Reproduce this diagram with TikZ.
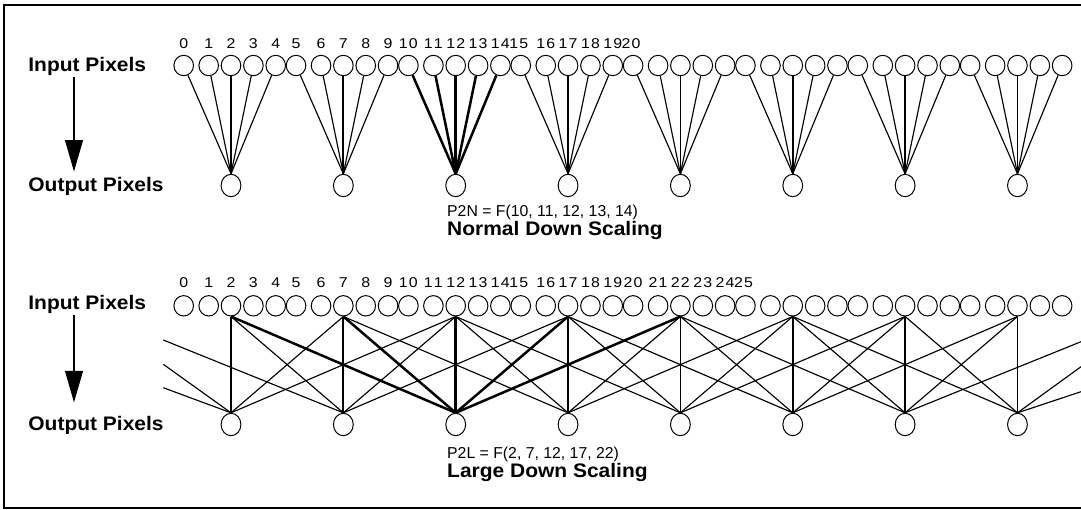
\documentclass[tikz,border=0pt]{standalone}
\usepackage{fontspec}
\setmainfont{Liberation Sans}
\newfontfamily\lblfont[FakeStretch=1.12]{Liberation Sans}
\newfontfamily\headfont[FakeStretch=1.07]{Liberation Sans}
\usetikzlibrary{shapes.geometric,arrows.meta}
\begin{document}
\begin{tikzpicture}[x=1pt,y=-1pt,
  inpix/.style={draw, ellipse, line width=1pt, minimum width=19.6pt, minimum height=20.4pt, inner sep=0pt},
  outpix/.style={draw, ellipse, line width=1pt, minimum width=19.8pt, minimum height=22.4pt, inner sep=0pt},
  wire/.style={line width=1.15pt},
  vwire/.style={line width=1.8pt},
  boldwire/.style={line width=2.5pt},
  idx/.style={anchor=base, inner sep=0pt, font=\lblfont\fontsize{14.2}{14.2}\selectfont},
  head/.style={anchor=base west, inner sep=0pt, font=\headfont\bfseries\fontsize{19.6}{19.6}\selectfont},
  formula/.style={anchor=base west, inner sep=0pt, font=\fontsize{15.8}{15.8}\selectfont},
  flow/.style={line width=2pt, -{Triangle[length=31.7pt,width=17.7pt]}},
  frame/.style={line width=2pt}
]
\useasboundingbox (0,0) rectangle (1081,509);
\draw[frame] (1090,5) -- (4.3,5) -- (4.3,507.6) -- (1090,507.6);

% input pixels (top and bottom rows)
\foreach \i in {0,...,39}{
  \pgfmathtruncatemacro\g{\i/5}
  \pgfmathtruncatemacro\k{\i-5*\g}
  \pgfmathsetmacro\px{231+112.35*\g+{-47.3,-22.3,0,22.4,44.7}[\k]}
  \node[inpix] (t\i) at (\px,65.5) {};
  \node[inpix] (b\i) at (\px,305.8) {};
}
% output pixels
\foreach \g in {0,...,7}{
  \pgfmathsetmacro\px{231+112.35*\g}
  \node[outpix] (to\g) at (\px,185.5) {};
  \node[outpix] (bo\g) at (\px,424.5) {};
}
% index labels, top row
\foreach \i in {0,...,20}{
  \pgfmathtruncatemacro\g{\i/5}
  \pgfmathtruncatemacro\k{\i-5*\g}
  \pgfmathsetmacro\px{231+112.35*\g+{-47.3,-22.3,0,22.4,44.7}[\k]}
  \ifnum\i=15 \pgfmathsetmacro\px{\px-2}\fi
  \ifnum\i=20 \pgfmathsetmacro\px{\px-2}\fi
  \ifnum\i>9
    \pgfmathtruncatemacro\da{\i/10}\pgfmathtruncatemacro\db{\i-10*\da}
    \node[idx] (tl\i) at (\px,48.8) {\da\kern1.2pt\db};
  \else
    \node[idx] (tl\i) at (\px,48.8) {\i};
  \fi
}
% index labels, bottom row
\foreach \i in {0,...,25}{
  \pgfmathtruncatemacro\g{\i/5}
  \pgfmathtruncatemacro\k{\i-5*\g}
  \pgfmathsetmacro\px{231+112.35*\g+{-47.3,-22.3,0,22.4,44.7}[\k]}
  \ifnum\i=15 \pgfmathsetmacro\px{\px-2}\fi
  \ifnum\i=25 \pgfmathsetmacro\px{\px-2}\fi
  \ifnum\i>9
    \pgfmathtruncatemacro\da{\i/10}\pgfmathtruncatemacro\db{\i-10*\da}
    \node[idx] (bl\i) at (\px,287.8) {\da\kern1.2pt\db};
  \else
    \node[idx] (bl\i) at (\px,287.8) {\i};
  \fi
}

% top wires: normal down scaling
\foreach \i in {0,...,39}{
  \pgfmathtruncatemacro\g{\i/5}
  \pgfmathtruncatemacro\k{\i-5*\g}
  \ifnum\g=2 \def\ws{boldwire}\else\ifnum\k=2 \def\ws{vwire}\else\def\ws{wire}\fi\fi
  \ifnum\k=2
    \draw[\ws] (t\i.south) -- (to\g.north);
  \else
    \draw[\ws] (t\i) -- (to\g.north);
  \fi
}

% bottom wires: large down scaling
\foreach \g in {0,...,7}{
  \foreach \d in {-2,...,2}{
    \pgfmathtruncatemacro\h{\g+\d}
    \pgfmathtruncatemacro\src{5*\h+2}
    \ifnum\g=2 \def\ws{boldwire}\else\ifnum\d=0 \def\ws{vwire}\else\def\ws{wire}\fi\fi
    \ifnum\h<0 \else\ifnum\h>7 \else
      \draw[\ws] (b\src.south) -- (bo\g.north);
    \fi\fi
  }
}
\coordinate (L1) at (163.3,340);
\coordinate (L2) at (163.3,364.3);
\coordinate (L3) at (163.3,387.7);
\coordinate (R1) at (1081,341.7);
\coordinate (R2) at (1081,366.7);
\coordinate (R3) at (1081,391.7);
\draw[wire] (L1) -- (bo1.north);
\draw[wire] (L2) -- (bo0.north);
\draw[wire] (L3) -- (bo0.north);
\draw[wire] (R1) -- (bo6.north);
\draw[wire] (R2) -- (bo7.north);
\draw[wire] (R3) -- (bo7.north);

% side labels and arrows
\node[head] (tin) at (28.2,71.7) {Input Pixels};
\node[head] (tout) at (28.2,191.7) {Output Pixels};
\coordinate (ta1) at (74,77);
\coordinate (ta2) at (74,171.7);
\draw[flow] (ta1) -- (ta2);

\node[head] (bin) at (28.2,309) {Input Pixels};
\node[head] (bout) at (28.2,430) {Output Pixels};
\coordinate (ba1) at (74,315);
\coordinate (ba2) at (74,402.5);
\draw[flow] (ba1) -- (ba2);

% captions
\node[formula] (f1) at (447,216.5) {P2N = F(10, 11, 12, 13, 14)};
\node[head] (c1) at (447,235.5) {Normal Down Scaling};
\node[formula] (f2) at (447,458.5) {P2L = F(2, 7, 12, 17, 22)};
\node[head] (c2) at (447,477.5) {Large Down Scaling};
\end{tikzpicture}
\end{document}
